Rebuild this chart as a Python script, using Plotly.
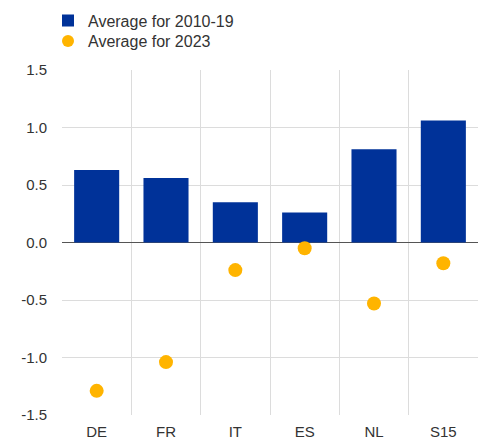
import plotly.graph_objects as go

categories = ["DE", "FR", "IT", "ES", "NL", "S15"]
avg_2010_19 = [0.63, 0.56, 0.35, 0.26, 0.81, 1.06]
avg_2023 = [-1.29, -1.04, -0.24, -0.05, -0.53, -0.18]
y_ticks = [-1.5, -1.0, -0.5, 0.0, 0.5, 1.0, 1.5]
y_tick_labels = [f"{v:.1f}" for v in y_ticks]

fig = go.Figure()
fig.add_trace(go.Bar(
    x=categories, y=avg_2010_19, name="Average for 2010-19",
    marker=dict(color="#003299", line=dict(width=0)),
    legend="legend",
))
fig.add_trace(go.Scatter(
    x=categories, y=avg_2023, name="Average for 2023", mode="markers",
    marker=dict(color="#FFB400", size=14, line=dict(width=0)),
    legend="legend2",
))

legend_common = dict(
    x=-14/416, xref="paper", xanchor="left",
    yref="container", yanchor="middle",
    orientation="v", font=dict(size=16, color="#333333"),
    bgcolor="rgba(0,0,0,0)", itemsizing="constant", itemwidth=30,
)

fig.update_layout(
    width=478, height=443,
    margin=dict(l=62, r=0, t=70, b=28, autoexpand=False),
    plot_bgcolor="white", paper_bgcolor="white",
    font=dict(family="Arial, Liberation Sans, sans-serif", size=15, color="#333333"),
    bargap=0.35,
    showlegend=True,
    legend=dict(legend_common, y=1 - 20.5/443),
    legend2=dict(legend_common, y=1 - 41/443),
    xaxis=dict(
        type="category", tickson="boundaries", showgrid=True,
        gridcolor="#dcdcdc", gridwidth=1, ticks="", showline=False,
        range=[-0.5, 5.5], ticklabelstandoff=6,
    ),
    yaxis=dict(
        range=[-1.5, 1.5], tickvals=y_ticks, ticktext=y_tick_labels,
        showgrid=True, gridcolor="#dcdcdc", gridwidth=1,
        zeroline=True, zerolinecolor="#555555", zerolinewidth=1,
        ticks="", showline=False, ticklabelstandoff=14,
    ),
)

fig.write_html(
    "out.html",
    config={"displayModeBar": False},
    post_script="document.body.style.margin='0';document.body.style.overflow='hidden';",
)
